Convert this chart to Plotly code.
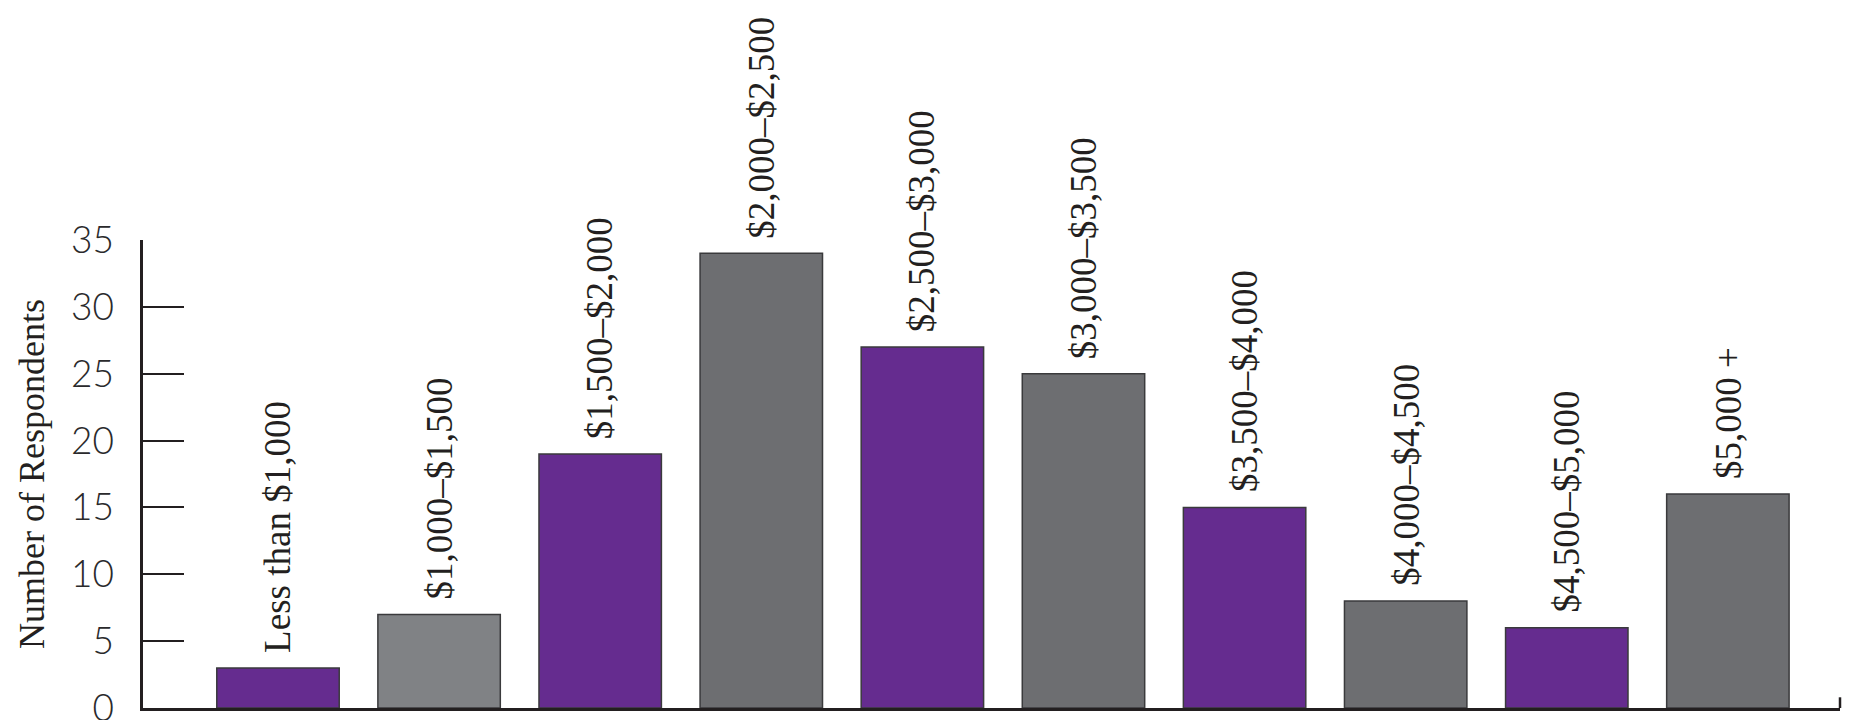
import plotly.graph_objects as go

categories = ["Less than $1,000", "$1,000\u2013$1,500", "$1,500\u2013$2,000", "$2,000\u2013$2,500",
              "$2,500\u2013$3,000", "$3,000\u2013$3,500", "$3,500\u2013$4,000", "$4,000\u2013$4,500",
              "$4,500\u2013$5,000", "$5,000 +"]
respondents = [3, 7, 19, 34, 27, 25, 15, 8, 6, 16]
bar_colors = ["#652C8F", "#808285", "#652C8F", "#6D6E71", "#652C8F",
              "#6D6E71", "#652C8F", "#6D6E71", "#652C8F", "#6D6E71"]
y_ticks = [0, 5, 10, 15, 20, 25, 30, 35]

x_idx = list(range(len(categories)))

fig = go.Figure()
fig.add_trace(go.Bar(
    x=x_idx, y=respondents,
    marker=dict(color=bar_colors, line=dict(color="#3a3a3c", width=1.5)),
    width=0.76,
    hoverinfo="skip",
))

for i, (c, v) in enumerate(zip(categories, respondents)):
    fig.add_annotation(
        x=i, y=v, text=c, textangle=-90, showarrow=False,
        xanchor="center", yanchor="bottom", yshift=13,
        font=dict(family="Liberation Serif, Times New Roman, serif", size=37, color="#231f20"),
    )

# small end tick at right end of x axis
fig.add_shape(type="line", xref="paper", yref="y", x0=1, x1=1, y0=0, y1=0.8,
              line=dict(color="#231f20", width=2.5))

fig.update_layout(
    width=1863, height=720,
    margin=dict(l=143, r=23, t=240, b=12, autoexpand=False),
    plot_bgcolor="white", paper_bgcolor="white",
    showlegend=False,
    xaxis=dict(range=[-0.838, 9.696], showticklabels=False, ticks="",
               showline=True, linecolor="#231f20", linewidth=2.5,
               showgrid=False, zeroline=False, fixedrange=True, automargin=False),
    yaxis=dict(range=[0, 35], tickvals=y_ticks, ticks="inside", ticklen=41,
               tickwidth=2, tickcolor="#231f20",
               showline=True, linecolor="#231f20", linewidth=2.5,
               showgrid=False, zeroline=False, automargin=False,
               ticklabelstandoff=19, ticklabeloverflow="allow",
               tickfont=dict(family="Lato, Open Sans, sans-serif", size=37, color="#2a2a2c", weight=300),
               title=dict(text="Number of Respondents", standoff=16,
                          font=dict(family="Liberation Serif, Times New Roman, serif", size=36, color="#231f20"))),
)

fig.write_html("out.html")
